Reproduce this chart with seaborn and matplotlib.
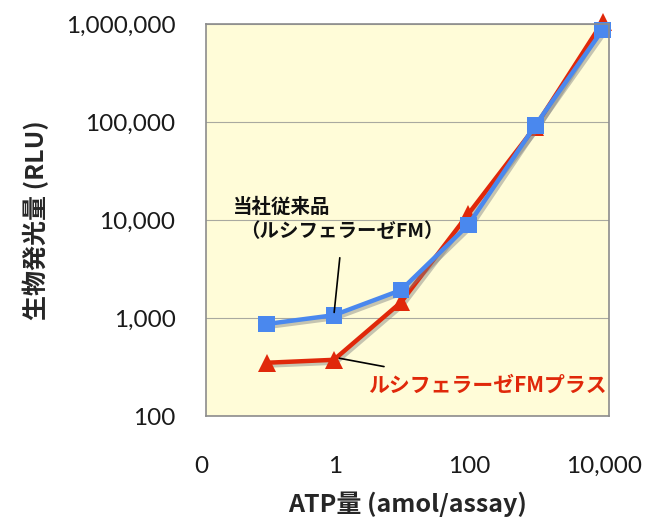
import numpy as np
import pandas as pd
import matplotlib
matplotlib.use("Agg")
import matplotlib.pyplot as plt
import matplotlib.patheffects as pe
import matplotlib.transforms as mtransforms
import seaborn as sns

# ATP量 (amol/assay) と 生物発光量 (RLU)
atp = [0.08, 0.8, 8, 80, 800, 8000]
rlu_fm = [870, 1070, 1930, 8900, 93000, 870000]           # 当社従来品（ルシフェラーゼFM）
rlu_fm_plus = [350, 375, 1450, 11500, 90000, 1050000]     # ルシフェラーゼFMプラス

xticks = [0.01, 1, 100, 10000]
xticklabels = ["0", "1", "100", "10,000"]
yticks = [100, 1000, 10000, 100000, 1000000]
yticklabels = ["100", "1,000", "10,000", "100,000", "1,000,000"]

sns.set_theme(style="white")
plt.rcParams['font.family'] = ['Noto Sans CJK JP', 'DejaVu Sans']

fig = plt.figure(figsize=(6.5, 5.24), dpi=100)
ax = fig.add_axes([0.317, 0.206, 0.62, 0.748])
ax.set_facecolor("#FFFCD8")

shadow = [pe.SimpleLineShadow(offset=(1.5, -2), shadow_color="gray", alpha=0.45), pe.Normal()]

df_plus = pd.DataFrame({"atp": atp, "rlu": rlu_fm_plus})
df_fm = pd.DataFrame({"atp": atp, "rlu": rlu_fm})

sns.lineplot(data=df_plus, x="atp", y="rlu", ax=ax, color="#E0280A", lw=3.2,
             marker="^", markersize=13, markeredgewidth=0, clip_on=False,
             path_effects=shadow)
sns.lineplot(data=df_fm, x="atp", y="rlu", ax=ax, color="#4A88EE", lw=3.2,
             marker="s", markersize=12, markeredgewidth=0, clip_on=False,
             path_effects=shadow)

ax.set_xscale("log")
ax.set_yscale("log")
ax.set_xlim(0.01, 10000)
ax.set_ylim(100, 1000000)
ax.set_xticks(xticks)
ax.set_xticklabels(xticklabels, fontfamily="Lato", fontsize=17.5, color="#1a1a1a")
ax.set_yticks(yticks)
ax.set_yticklabels(yticklabels, fontfamily="Lato", fontsize=17.5, color="#1a1a1a")
ax.minorticks_off()
ax.tick_params(axis="x", direction="in", length=5, width=0.8, color="#999999", pad=29)
ax.tick_params(axis="y", direction="out", length=3, width=0.8, color="#999999", pad=19)
shift = mtransforms.ScaledTranslation(-5 / 100, 0, fig.dpi_scale_trans)
for lab in ax.get_xticklabels():
    lab.set_transform(lab.get_transform() + shift)
ax.grid(axis="y", color="#A9A9A0", lw=0.8)
for s in ax.spines.values():
    s.set_color("#8C8C8C")
    s.set_linewidth(1.2)

ax.set_xlabel("ATP量 (amol/assay)", fontsize=18, fontweight="bold", labelpad=10)
ax.set_ylabel("生物発光量 (RLU)", fontsize=18, fontweight="bold", labelpad=12)

ax.annotate("", xy=(atp[1], rlu_fm[1]), xytext=(0.99, 4400),
            arrowprops=dict(arrowstyle="-", color="black", lw=1.2))
ax.annotate("", xy=(atp[1] * 1.1, rlu_fm_plus[1] * 1.05), xytext=(4.9, 316),
            arrowprops=dict(arrowstyle="-", color="black", lw=1.2))

ax.text(0.025, 13600, "当社従来品", fontsize=14, fontweight="bold",
        ha="left", va="center", color="#111111")
ax.text(0.032, 7600, "（ルシフェラーゼFM）", fontsize=14, fontweight="bold",
        ha="left", va="center", color="#111111")
ax.text(2.6, 207, "ルシフェラーゼFMプラス", fontsize=15, fontweight="bold",
        ha="left", va="center", color="#E0280A")

fig.savefig("out.png", dpi=100)
